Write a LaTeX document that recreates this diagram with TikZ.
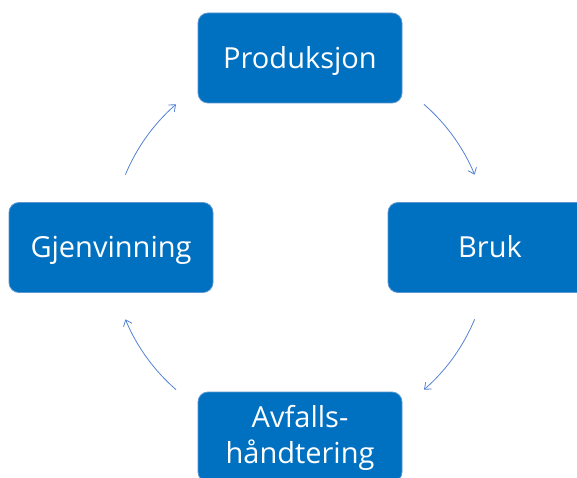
\documentclass[tikz,border=0pt]{standalone}
\usepackage{fontspec}
\setmainfont{Open Sans}
\usetikzlibrary{arrows.meta}
\definecolor{boxblue}{RGB}{0,112,192}
\definecolor{boxedge}{RGB}{90,150,210}
\definecolor{arrowblue}{RGB}{84,130,212}
\tikzset{
  box/.style={rectangle, rounded corners=10pt, fill=boxblue, draw=boxedge, line width=0.8pt,
    text=white, minimum width=204pt, minimum height=90pt, inner sep=0pt,
    font=\fontsize{29}{36}\selectfont},
  oneline/.style={text height=20.7pt, text depth=0pt},
  cyc/.style={draw=arrowblue, line width=0.8pt, -{Straight Barb[length=5.5pt,width=9pt]}}
}
\begin{document}
\begin{tikzpicture}[x=1pt,y=1pt]
\fill[white] (0,0) rectangle (577,-478);
\useasboundingbox (0,0) rectangle (577,-478);
\clip (0,0) rectangle (577,-478);
\node[box,oneline] (prod) at (300,-58) {Produksjon};
\node[box,oneline] (bruk) at (490,-247.5) {Bruk};
\node[box,oneline] (gjen) at (111,-247.5) {Gjenvinning};
\node[box,align=center] (avf) at (300,-437) {};
\node[text=white, font=\fontsize{29}{36}\selectfont, align=center, inner sep=0pt, anchor=base]
  (avftxt) at (300,-463) {Avfalls-\\håndtering};
\coordinate (c) at (300,-247);
\coordinate (s1) at ([shift={(157.5:189)}]c);
\coordinate (s2) at ([shift={(49:189)}]c);
\coordinate (s3) at ([shift={(-22.5:189)}]c);
\coordinate (s4) at ([shift={(-131:189)}]c);
\draw[cyc] (s1) arc[start angle=157.5, end angle=131, radius=189];
\draw[cyc] (s2) arc[start angle=49, end angle=22.5, radius=189];
\draw[cyc] (s3) arc[start angle=-22.5, end angle=-49, radius=189];
\draw[cyc] (s4) arc[start angle=-131, end angle=-157.5, radius=189];
\end{tikzpicture}
\end{document}
